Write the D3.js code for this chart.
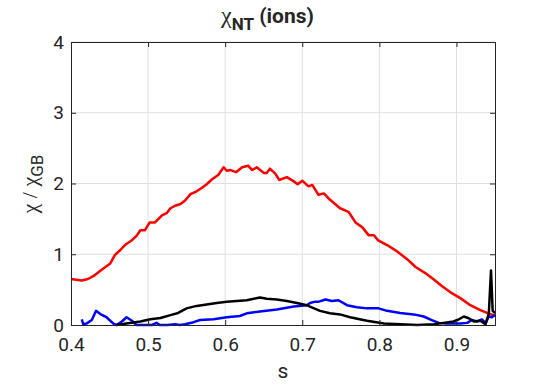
<!DOCTYPE html>
<html>
<head>
<meta charset="utf-8">
<script src="https://cdn.jsdelivr.net/npm/d3@7"></script>
<style>
  body { margin: 0; background: #fff; }
  text { font-family: Roboto, "Liberation Sans", sans-serif; fill: #262626; }
</style>
</head>
<body>
<div id="chart"></div>
<script>
// chart values
var xTicks = [0.4, 0.5, 0.6, 0.7, 0.8, 0.9]
var yTicks = [0, 1, 2, 3, 4]

var redS = [0.400,0.407,0.414,0.422,0.429,0.436,0.442,0.451,0.457,0.464,0.470,0.478,0.485,0.490,0.496,0.502,0.509,0.518,0.524,0.529,0.536,0.542,0.548,0.555,0.563,0.570,0.576,0.583,0.591,0.598,0.602,0.607,0.614,0.622,0.630,0.635,0.641,0.650,0.654,0.658,0.665,0.670,0.680,0.689,0.694,0.700,0.708,0.713,0.721,0.728,0.736,0.749,0.760,0.769,0.778,0.786,0.793,0.798,0.810,0.823,0.836,0.847,0.860,0.871,0.881,0.894,0.905,0.918,0.931,0.942,0.950]
var redV = [0.65,0.64,0.63,0.65,0.69,0.75,0.80,0.87,0.99,1.06,1.13,1.19,1.26,1.34,1.34,1.45,1.45,1.55,1.58,1.65,1.69,1.71,1.76,1.85,1.89,1.94,1.99,2.06,2.12,2.23,2.18,2.19,2.16,2.23,2.25,2.19,2.23,2.15,2.15,2.21,2.14,2.05,2.09,2.03,1.99,2.04,1.96,1.98,1.84,1.86,1.77,1.65,1.60,1.45,1.38,1.27,1.27,1.20,1.13,1.04,0.93,0.82,0.73,0.64,0.55,0.45,0.38,0.28,0.21,0.16,0.13]

var blueS = [0.414,0.416,0.420,0.427,0.4325,0.438,0.446,0.455,0.459,0.466,0.472,0.479,0.485,0.495,0.505,0.511,0.515,0.525,0.535,0.541,0.548,0.559,0.5675,0.585,0.602,0.619,0.628,0.645,0.667,0.689,0.706,0.710,0.717,0.7216,0.730,0.7385,0.747,0.758,0.771,0.784,0.799,0.810,0.827,0.8445,0.8575,0.868,0.877,0.886,0.905,0.914,0.920,0.927,0.933,0.9377,0.942,0.946,0.950]
var blueV = [0.08,0.01,0.02,0.07,0.20,0.155,0.11,0.02,0.00,0.05,0.11,0.06,0.00,0.00,0.00,0.03,0.00,0.00,0.01,0.00,0.01,0.04,0.07,0.08,0.11,0.127,0.165,0.19,0.22,0.26,0.28,0.31,0.33,0.33,0.36,0.34,0.35,0.28,0.25,0.235,0.235,0.20,0.17,0.15,0.12,0.07,0.03,0.02,0.02,0.03,0.07,0.05,0.08,0.03,0.12,0.11,0.14]

var blackS = [0.459,0.472,0.490,0.503,0.516,0.529,0.539,0.550,0.563,0.576,0.589,0.602,0.615,0.628,0.637,0.645,0.654,0.667,0.680,0.693,0.706,0.710,0.723,0.736,0.749,0.762,0.784,0.806,0.827,0.849,0.871,0.883,0.896,0.903,0.9095,0.916,0.9225,0.931,0.9377,0.942,0.9448,0.947,0.950]
var blackV = [0.00,0.02,0.05,0.08,0.10,0.14,0.17,0.235,0.27,0.29,0.31,0.33,0.34,0.35,0.37,0.39,0.37,0.36,0.34,0.31,0.28,0.26,0.20,0.165,0.15,0.11,0.06,0.02,0.01,0.00,0.01,0.03,0.05,0.08,0.12,0.095,0.05,0.06,0.01,0.165,0.77,0.20,0.17]

var series = [
  {s: redS, v: redV, color: "#ff0000"},
  {s: blueS, v: blueV, color: "#0000ff"},
  {s: blackS, v: blackV, color: "#000000"}
]

var width = 547
    height = 385
    margin = {top: 42, right: 52, bottom: 60, left: 71}

var svg = d3.select("#chart")
    .append("svg")
        .attr("width", width)
        .attr("height", height)

var x = d3.scaleLinear().domain([0.4, 0.95]).range([margin.left, width - margin.right])
var y = d3.scaleLinear().domain([0, 4]).range([height - margin.bottom, margin.top])

// grid lines
svg.append("g").selectAll("line.gx")
    .data(xTicks.slice(1))
    .enter().append("line")
        .attr("x1", d => x(d)).attr("x2", d => x(d))
        .attr("y1", y(0)).attr("y2", y(4))
        .attr("stroke", "#dfdfdf").attr("stroke-width", 1)
svg.append("g").selectAll("line.gy")
    .data(yTicks.slice(1))
    .enter().append("line")
        .attr("x1", x(0.4)).attr("x2", x(0.95))
        .attr("y1", d => y(d)).attr("y2", d => y(d))
        .attr("stroke", "#dfdfdf").attr("stroke-width", 1)

// data lines
var line = d3.line()
    .x(d => x(d[0]))
    .y(d => y(d[1]))

series.forEach(function(ser) {
    svg.append("path")
        .datum(ser.s.map((s, i) => [s, ser.v[i]]))
        .attr("d", line)
        .attr("fill", "none")
        .attr("stroke", ser.color)
        .attr("stroke-width", 2.5)
        .attr("stroke-linejoin", "round")
})

// axes (MATLAB style box with inward ticks)
var xAxis = svg.append("g")
    .attr("transform", "translate(0," + y(0) + ")")
    .call(d3.axisBottom(x).tickValues(xTicks).tickSize(-5).tickPadding(13).tickFormat(d3.format(".1f")))
var yAxis = svg.append("g")
    .attr("transform", "translate(" + x(0.4) + ",0)")
    .call(d3.axisLeft(y).tickValues(yTicks).tickSize(-5).tickPadding(7).tickFormat(d3.format("d")))
var xTop = svg.append("g")
    .attr("transform", "translate(0," + y(4) + ")")
    .call(d3.axisTop(x).tickValues(xTicks).tickSize(-5).tickFormat(""))
var yRight = svg.append("g")
    .attr("transform", "translate(" + x(0.95) + ",0)")
    .call(d3.axisRight(y).tickValues(yTicks).tickSize(-5).tickFormat(""))

;[xAxis, yAxis, xTop, yRight].forEach(function(g) {
    g.selectAll("path").attr("stroke", "#262626").attr("stroke-width", 1)
    g.selectAll("line").attr("stroke", "#262626")
    g.selectAll("text").attr("font-size", 19).attr("fill", "#262626")
        .style("font-family", "Roboto, sans-serif")
})

// x label
svg.append("text")
    .attr("x", (x(0.4) + x(0.95)) / 2)
    .attr("y", 378)
    .attr("text-anchor", "middle")
    .attr("font-size", 21)
    .text("s")

// y label
var yl = svg.append("text")
    .attr("transform", "translate(37,184) rotate(-90)")
    .attr("text-anchor", "middle")
    .attr("font-size", 22)
yl.append("tspan").style("font-family", "'Liberation Serif', serif").text("χ / χ")
yl.append("tspan").attr("font-size", 17).attr("dy", 6).text("GB")

// title
var title = svg.append("text")
    .attr("x", 221)
    .attr("y", 23)
    .attr("font-size", 21)
title.append("tspan").style("font-family", "'Liberation Serif', serif").attr("font-size", 24).text("χ")
title.append("tspan").attr("font-weight", "bold").attr("font-size", 17).attr("dy", 7).text("NT")
title.append("tspan").attr("font-weight", "bold").attr("dy", -7).text(" (ions)")
</script>
</body>
</html>
